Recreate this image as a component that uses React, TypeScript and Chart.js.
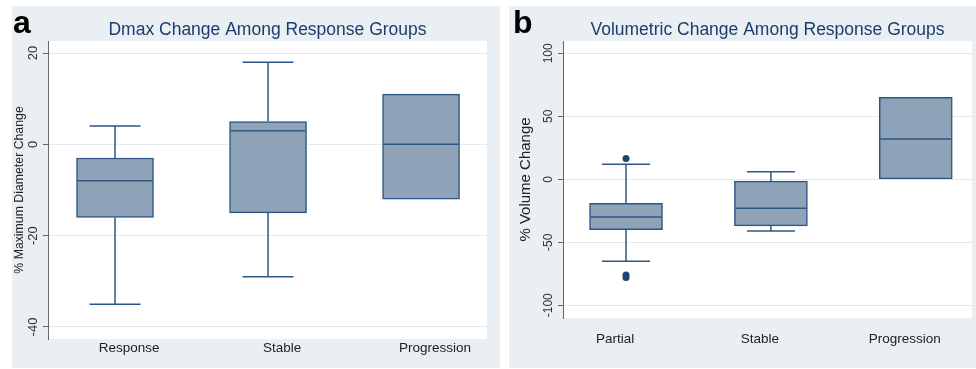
import React, { useEffect, useRef } from "react";
import { Chart, registerables } from "chart.js";
Chart.register(...registerables);

const FONT = '"Liberation Sans", Arial, Helvetica, sans-serif';
const BG = "#e9eff3";
const GRID = "#e4ebf0";
const AXIS = "#666666";
const BOX_FILL = "#8ea3b8";
const LINE = "#2c5684";
const DOT = "#1a476f";
const TITLE = "#1c3d6c";

// ---------- Panel a: Dmax change ----------
const dmaxGroups = ["Response", "Stable", "Progression"];
const dmaxPos = [1, 2, 3];
const dmaxQ1 = [-16, -15, -12];
const dmaxMedian = [-8, 3, 0];
const dmaxQ3 = [-3, 5, 11];
const dmaxLow = [-35, -29, -12];
const dmaxHigh = [4, 18, 11];
const dmaxOutX: number[] = [];
const dmaxOutY: number[] = [];
const dmaxTicks = [-40, -20, 0, 20];

// ---------- Panel b: Volumetric change ----------
const volGroups = ["Partial", "Stable", "Progression"];
const volPos = [1, 2, 3];
const volQ1 = [-40, -37, 0];
const volMedian = [-30, -23, 32];
const volQ3 = [-19, -1.5, 65];
const volLow = [-65, -41, 0];
const volHigh = [12, 6, 65];
const volOutX = [1, 1, 1];
const volOutY = [16.5, -76, -78];
const volTicks = [-100, -50, 0, 50, 100];

type PanelCfg = {
  left: number; top: number; width: number; height: number;
  letter: string; letterX: number;
  title: string; yTitle: string; yTitleX: number; yTitleSize: number;
  groups: string[]; pos: number[];
  q1: number[]; med: number[]; q3: number[]; lo: number[]; hi: number[];
  outX: number[]; outY: number[]; ticks: number[];
  yMin: number; yMax: number; xMin: number; xMax: number;
  yAxisW: number; xAxisH: number; padRight: number;
  barW: number; capW: number; tickLabelX: number; tickSize: number;
  xLabelPad: number; xLabelOffset: number;
};

const panelA: PanelCfg = {
  left: 12, top: 6, width: 488, height: 362,
  letter: "a", letterX: 1,
  title: "Dmax Change Among Response Groups",
  yTitle: "% Maximum Diameter Change", yTitleX: 8, yTitleSize: 12.3,
  groups: dmaxGroups, pos: dmaxPos,
  q1: dmaxQ1, med: dmaxMedian, q3: dmaxQ3, lo: dmaxLow, hi: dmaxHigh,
  outX: dmaxOutX, outY: dmaxOutY, ticks: dmaxTicks,
  yMin: -42.63, yMax: 22.63, xMin: 0.562, xMax: 3.431,
  yAxisW: 36, xAxisH: 29, padRight: 13,
  barW: 77, capW: 51, tickLabelX: 21, tickSize: 13,
  xLabelPad: 1, xLabelOffset: 14,
};

const panelB: PanelCfg = {
  left: 509, top: 6, width: 467, height: 362,
  letter: "b", letterX: 4,
  title: "Volumetric Change Among Response Groups",
  yTitle: "% Volume Change", yTitleX: 17, yTitleSize: 15,
  groups: volGroups, pos: volPos,
  q1: volQ1, med: volMedian, q3: volQ3, lo: volLow, hi: volHigh,
  outX: volOutX, outY: volOutY, ticks: volTicks,
  yMin: -110.1, yMax: 109.8, xMin: 0.565, xMax: 3.388,
  yAxisW: 54, xAxisH: 50, padRight: 0,
  barW: 73, capW: 48, tickLabelX: 40, tickSize: 12,
  xLabelPad: 13, xLabelOffset: -11,
};

function makeDecoPlugin(p: PanelCfg) {
  return {
    id: "boxDeco",
    beforeDraw(chart: any) {
      const { ctx, chartArea: ca, width, height } = chart;
      ctx.save();
      ctx.fillStyle = BG;
      ctx.fillRect(0, 0, width, height);
      ctx.fillStyle = "#ffffff";
      ctx.fillRect(ca.left, ca.top, ca.right - ca.left, ca.bottom - ca.top);
      ctx.restore();
    },
    afterDatasetsDraw(chart: any) {
      const { ctx } = chart;
      const xs = chart.scales.x;
      const ys = chart.scales.y;
      const meta = chart.getDatasetMeta(0);
      ctx.save();
      ctx.strokeStyle = LINE;
      ctx.lineWidth = 1.5;
      p.pos.forEach((xv, i) => {
        const cx = xs.getPixelForValue(xv);
        const bw = meta.data[i] ? meta.data[i].width : p.barW;
        const line = (x1: number, y1: number, x2: number, y2: number) => {
          ctx.beginPath();
          ctx.moveTo(x1, y1);
          ctx.lineTo(x2, y2);
          ctx.stroke();
        };
        const my = ys.getPixelForValue(p.med[i]);
        line(cx - bw / 2 + 1, my, cx + bw / 2 - 1, my);
        if (p.hi[i] > p.q3[i]) {
          const a = ys.getPixelForValue(p.q3[i]);
          const b = ys.getPixelForValue(p.hi[i]);
          line(cx, a, cx, b);
          line(cx - p.capW / 2, b, cx + p.capW / 2, b);
        }
        if (p.lo[i] < p.q1[i]) {
          const a = ys.getPixelForValue(p.q1[i]);
          const b = ys.getPixelForValue(p.lo[i]);
          line(cx, a, cx, b);
          line(cx - p.capW / 2, b, cx + p.capW / 2, b);
        }
      });
      ctx.restore();
    },
    afterDraw(chart: any) {
      const { ctx, chartArea: ca } = chart;
      const ys = chart.scales.y;
      ctx.save();
      // y tick labels (rotated, Stata style)
      ctx.fillStyle = "#333333";
      ctx.font = `${p.tickSize}px ${FONT}`;
      ctx.textAlign = "center";
      ctx.textBaseline = "middle";
      p.ticks.forEach((v) => {
        const py = ys.getPixelForValue(v);
        ctx.save();
        ctx.translate(p.tickLabelX, py);
        ctx.rotate(-Math.PI / 2);
        ctx.fillText(String(v), 0, 0);
        ctx.restore();
      });
      // y axis title
      ctx.fillStyle = "#222222";
      ctx.font = `${p.yTitleSize}px ${FONT}`;
      ctx.save();
      ctx.translate(p.yTitleX, (ca.top + ca.bottom) / 2);
      ctx.rotate(-Math.PI / 2);
      ctx.fillText(p.yTitle, 0, 0);
      ctx.restore();
      // panel letter
      ctx.fillStyle = "#000000";
      ctx.font = `bold 32px ${FONT}`;
      ctx.textAlign = "left";
      ctx.textBaseline = "alphabetic";
      ctx.fillText(p.letter, p.letterX, 27);
      ctx.restore();
    },
  };
}

function BoxPanel({ p }: { p: PanelCfg }) {
  const ref = useRef<HTMLCanvasElement>(null);
  useEffect(() => {
    const chart = new Chart(ref.current as HTMLCanvasElement, {
      type: "bar",
      data: {
        datasets: [
          {
            type: "bar",
            data: p.pos.map((x, i) => ({ x, y: [p.q1[i], p.q3[i]] })) as any,
            backgroundColor: BOX_FILL,
            borderColor: LINE,
            borderWidth: 1.5,
            borderSkipped: false,
            barThickness: p.barW,
          },
          {
            type: "scatter",
            data: p.outX.map((x, i) => ({ x, y: p.outY[i] })) as any,
            pointRadius: 3.5,
            backgroundColor: DOT,
            borderWidth: 0,
          } as any,
        ],
      },
      options: {
        responsive: false,
        animation: false,
        devicePixelRatio: 1,
        events: [],
        layout: { padding: { left: 0, right: p.padRight, top: 0, bottom: 0 } },
        plugins: {
          legend: { display: false },
          tooltip: { enabled: false },
          title: {
            display: true,
            text: p.title,
            color: TITLE,
            font: { family: FONT, size: 17.5, weight: "normal" as any },
            padding: { top: 13.5, bottom: 0.5 },
            fullSize: false,
          },
        },
        scales: {
          x: {
            type: "linear",
            min: p.xMin,
            max: p.xMax,
            offset: false,
            grid: { display: false, drawTicks: false },
            border: { display: false },
            afterBuildTicks: (s: any) => {
              s.ticks = p.pos.map((v) => ({ value: v }));
            },
            afterFit: (s: any) => {
              s.height = p.xAxisH;
              s.paddingLeft = 0;
              s.paddingRight = 0;
            },
            ticks: {
              autoSkip: false,
              maxRotation: 0,
              minRotation: 0,
              padding: p.xLabelPad,
              labelOffset: p.xLabelOffset,
              color: "#222222",
              font: { family: FONT, size: 13.5 },
              callback: (v: any) => {
                const k = p.pos.indexOf(Number(v));
                return k >= 0 ? p.groups[k] : "";
              },
            },
          },
          y: {
            type: "linear",
            min: p.yMin,
            max: p.yMax,
            afterBuildTicks: (s: any) => {
              s.ticks = p.ticks.map((v) => ({ value: v }));
            },
            afterFit: (s: any) => {
              s.width = p.yAxisW;
              s.paddingTop = 0;
              s.paddingBottom = 0;
            },
            ticks: { display: false },
            grid: { color: GRID, tickColor: AXIS, tickLength: 5, lineWidth: 1, drawTicks: true },
            border: { display: true, color: AXIS, width: 1 },
          },
        },
      } as any,
      plugins: [makeDecoPlugin(p)],
    });
    return () => chart.destroy();
  }, [p]);
  return (
    <canvas
      ref={ref}
      width={p.width}
      height={p.height}
      style={{ position: "absolute", left: p.left, top: p.top, width: p.width, height: p.height }}
    />
  );
}

export default function App() {
  return (
    <div style={{ position: "absolute", left: 0, top: 0, width: 976, height: 369, background: "#ffffff", overflow: "hidden" }}>
      <BoxPanel p={panelA} />
      <BoxPanel p={panelB} />
    </div>
  );
}
